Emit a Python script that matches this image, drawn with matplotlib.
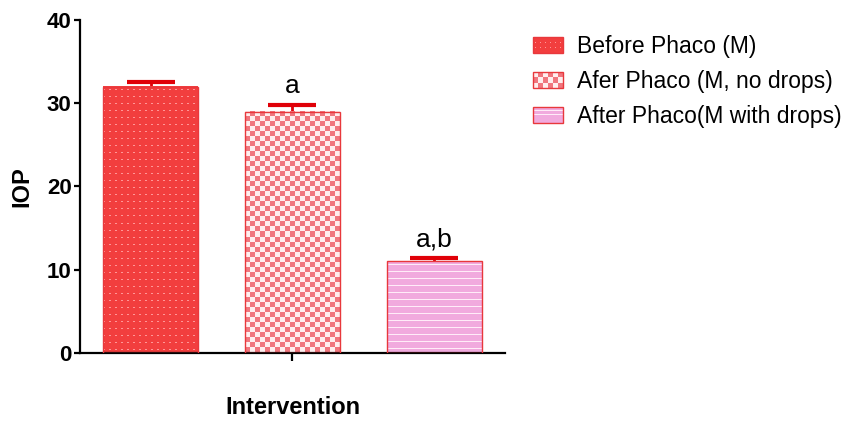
import numpy as np
import matplotlib
matplotlib.use('Agg')
import matplotlib.pyplot as plt
from matplotlib.patches import Rectangle
from matplotlib.legend_handler import HandlerBase

# ---------------- data ----------------
categories = ['Before Phaco (M)', 'Afer Phaco (M, no drops)', 'After Phaco(M with drops)']
iop_mean = [32.0, 29.0, 11.0]
iop_err = [0.5, 0.8, 0.4]
sig_labels = ['', 'a', 'a,b']
y_ticks = [0, 10, 20, 30, 40]
x_label = 'Intervention'
y_label = 'IOP'

plt.rcParams['font.family'] = ['Liberation Sans', 'DejaVu Sans']

W, H, DPI = 853, 433, 100
fig = plt.figure(figsize=(W / DPI, H / DPI), dpi=DPI)
ax = fig.add_axes([80 / W, 1 - 353 / H, (505 - 80) / W, (353 - 20) / H])

EDGE = '#E8383C'
ERR = '#E00008'
styles = [
    dict(kind='dots', base=(242, 62, 62), fg=(255, 150, 150)),
    dict(kind='checker', base=(240, 118, 126), fg=(255, 238, 238)),
    dict(kind='stripes', base=(241, 170, 222), fg=(255, 236, 248)),
]


def texture(kind, w, h, base, fg):
    img = np.empty((h, w, 3), dtype=float)
    img[:] = np.array(base) / 255.0
    yy, xx = np.mgrid[0:h, 0:w]
    if kind == 'dots':
        mask = ((xx % 6) < 2) & ((yy % 7) == 3)
    elif kind == 'checker':
        mask = ((xx // 5) + (yy // 5)) % 2 == 0
    else:
        mask = (yy % 7) == 3
    img[mask] = np.array(fg) / 255.0
    return img


x = np.arange(len(categories))
ax.set_xlim(-0.5, len(categories) - 0.5)
ax.set_ylim(y_ticks[0], y_ticks[-1])
bars = ax.bar(x, iop_mean, width=0.67, facecolor='none', edgecolor=EDGE,
              linewidth=1.0, zorder=3)
for bar, st in zip(bars, styles):
    x0, y0, bw, bh = bar.get_x(), bar.get_y(), bar.get_width(), bar.get_height()
    (px0, py0), (px1, py1) = ax.transData.transform([(x0, y0), (x0 + bw, y0 + bh)])
    wpx, hpx = max(int(round(px1 - px0)), 1), max(int(round(py1 - py0)), 1)
    img = texture(st['kind'], wpx, hpx, st['base'], st['fg'])
    ax.imshow(img, extent=(x0, x0 + bw, y0, y0 + bh), interpolation='nearest',
              aspect='auto', zorder=2)
ax.set_xlim(-0.5, len(categories) - 0.5)
ax.set_ylim(y_ticks[0], y_ticks[-1])

# symmetric error bars drawn behind the bars, so only the upper half shows
ax.errorbar(x, iop_mean, yerr=iop_err, fmt='none',
            ecolor=ERR, elinewidth=2, capsize=17.5, capthick=3, zorder=1.5)

for xi, m, e, s in zip(x, iop_mean, iop_err, sig_labels):
    if s:
        ax.annotate(s, xy=(xi, m + e), xytext=(0, 8.5), textcoords='offset points',
                    ha='center', va='baseline', fontsize=19)

for s in ['top', 'right']:
    ax.spines[s].set_visible(False)
for s in ['left', 'bottom']:
    ax.spines[s].set_linewidth(1.6)
ax.set_yticks(y_ticks)
ax.set_yticklabels([str(t) for t in y_ticks], fontweight='bold', fontsize=16)
ax.tick_params(axis='y', direction='out', length=4.5, width=1.6, pad=1.5)
ax.set_xticks([np.mean(x)])
ax.set_xticklabels([''])
ax.tick_params(axis='x', direction='out', length=6, width=1.6)

ax.set_ylabel(y_label, fontweight='bold', fontsize=17)
ax.yaxis.label.set_va('center')
ax.yaxis.set_label_coords((22 - 80) / 425, (353 - 187) / 333)
ax.set_xlabel(x_label, fontweight='bold', fontsize=17)
ax.xaxis.label.set_va('center')
ax.xaxis.set_label_coords((293 - 80) / 425, (353 - 408) / 333)


class TextureHandler(HandlerBase):
    def create_artists(self, legend, orig_handle, xdescent, ydescent, width,
                       height, fontsize, trans):
        st = orig_handle.texture_style
        artists = []
        x0, y0 = -xdescent, -ydescent
        base = Rectangle((x0, y0), width, height,
                         facecolor=np.array(st['base']) / 255.0,
                         edgecolor='none', transform=trans)
        artists.append(base)
        fg = np.array(st['fg']) / 255.0
        if st['kind'] == 'checker':
            nx, ny = 6, 3
            cw, ch = width / nx, height / ny
            for i in range(nx):
                for j in range(ny):
                    if (i + j) % 2 == 0:
                        artists.append(Rectangle((x0 + i * cw, y0 + j * ch), cw, ch,
                                                 facecolor=fg, edgecolor='none',
                                                 transform=trans))
        elif st['kind'] == 'dots':
            ny, nx = 2, 6
            for j in range(ny):
                yy = y0 + height * (j + 1) / (ny + 1)
                for i in range(nx):
                    xx = x0 + width * (i + 0.5) / nx
                    artists.append(Rectangle((xx - 0.7, yy - 0.35), 1.4, 0.7,
                                             facecolor=fg, edgecolor='none',
                                             transform=trans))
        else:
            ny = 3
            for j in range(ny):
                yy = y0 + height * (j + 1) / (ny + 1)
                artists.append(Rectangle((x0, yy - 0.35), width, 0.7,
                                         facecolor=fg, edgecolor='none',
                                         transform=trans))
        artists.append(Rectangle((x0, y0), width, height, facecolor='none',
                                 edgecolor=EDGE, linewidth=1.0, transform=trans))
        return artists


handles = []
for bar, st in zip(bars, styles):
    bar.texture_style = st
    handles.append(bar)

fs_leg = 16.5
px = fs_leg * DPI / 72
fig.legend(handles, categories, loc='upper left',
           bbox_to_anchor=(533 / W, 1 - 35 / H), bbox_transform=fig.transFigure,
           frameon=False, fontsize=fs_leg, borderpad=0, borderaxespad=0,
           handlelength=30 / px, handleheight=17 / px,
           handletextpad=14 / px, labelspacing=0.52,
           handler_map={type(bars[0]): TextureHandler()})

fig.savefig('out.png', dpi=DPI)
